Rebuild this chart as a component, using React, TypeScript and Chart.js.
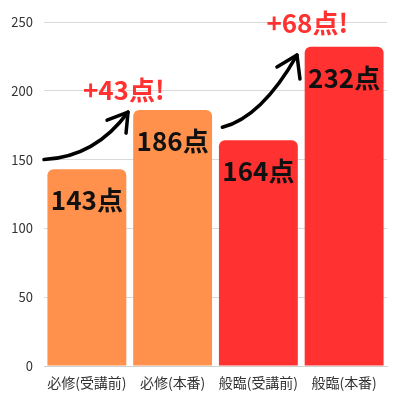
import React, { useEffect, useRef } from "react";
import { Chart, registerables } from "chart.js";

Chart.register(...registerables);

const categories = ["必修(受講前)", "必修(本番)", "般臨(受講前)", "般臨(本番)"];
const scores = [143, 186, 164, 232];
const barColors = ["#FF914D", "#FF914D", "#FF3131", "#FF3131"];
const yTicks = [0, 50, 100, 150, 200, 250];

const FONT = "'Noto Sans CJK JP', 'Noto Sans', sans-serif";

const gains = [
  { from: 0, to: 1, start: [-0.5, 150], ctrl: [0.1, 152], tip: [0.48, 184.5], text: [0.43, 200.5] },
  { from: 2, to: 3, start: [1.58, 173.5], ctrl: [2.04, 181], tip: [2.45, 226], text: [2.57, 249.5] },
];

const overlay = {
  id: "overlay",
  afterDatasetsDraw(chart: any) {
    const ctx = chart.ctx;
    const xs = chart.scales.x;
    const ys = chart.scales.y;
    const meta = chart.getDatasetMeta(0);
    ctx.save();
    ctx.font = `bold 26px ${FONT}`;
    ctx.fillStyle = "#111";
    ctx.textAlign = "center";
    ctx.textBaseline = "middle";
    meta.data.forEach((bar: any, i: number) => {
      ctx.fillText(`${scores[i]}点`, bar.x, bar.y + 31);
    });
    const px = (p: number[]) => [xs.getPixelForValue(p[0]), ys.getPixelForValue(p[1])];
    gains.forEach((g, gi) => {
      const s = px(g.start);
      const c = px(g.ctrl);
      const t = px(g.tip);
      ctx.strokeStyle = "#000";
      ctx.lineWidth = 3.5;
      ctx.lineCap = "round";
      ctx.lineJoin = "round";
      ctx.beginPath();
      ctx.moveTo(s[0], s[1]);
      ctx.quadraticCurveTo(c[0], c[1], t[0], t[1]);
      ctx.stroke();
      const arms = gi === 0 ? [[-21, 8], [-2, 21]] : [[-20, 12], [3, 24]];
      ctx.beginPath();
      ctx.moveTo(t[0] + arms[0][0], t[1] + arms[0][1]);
      ctx.lineTo(t[0], t[1]);
      ctx.lineTo(t[0] + arms[1][0], t[1] + arms[1][1]);
      ctx.stroke();
      const tp = px(g.text);
      ctx.font = `bold 26px ${FONT}`;
      ctx.fillStyle = "#FF3131";
      ctx.fillText(`+${scores[g.to] - scores[g.from]}点!`, tp[0], tp[1]);
    });
    ctx.restore();
  },
};

export default function App() {
  const ref = useRef<HTMLCanvasElement>(null);
  useEffect(() => {
    const chart = new Chart(ref.current!, {
      type: "bar",
      data: {
        labels: categories,
        datasets: [
          {
            data: scores,
            backgroundColor: barColors,
            borderRadius: 6,
            borderSkipped: "bottom",
            categoryPercentage: 1,
            barPercentage: 0.92,
          },
        ],
      },
      options: {
        animation: false,
        responsive: true,
        maintainAspectRatio: false,
        layout: { padding: { left: 0, right: 13, top: 22, bottom: 0 } },
        plugins: { legend: { display: false }, tooltip: { enabled: false } },
        scales: {
          x: {
            grid: { display: false, drawTicks: false },
            border: { display: true, color: "#d0d0d0" },
            ticks: {
              font: { family: FONT, size: 14 },
              color: "#333",
              padding: 8,
              maxRotation: 0,
              minRotation: 0,
              autoSkip: false,
            },
            afterFit: (axis: any) => {
              axis.height = 34;
            },
          },
          y: {
            min: 0,
            max: 250,
            afterBuildTicks: (axis: any) => {
              axis.ticks = yTicks.map((v) => ({ value: v }));
            },
            grid: { color: "#d9d9d9", drawTicks: false },
            border: { display: false },
            ticks: { font: { family: FONT, size: 13 }, color: "#333", padding: 11 },
            afterFit: (axis: any) => {
              axis.width = 44;
            },
          },
        },
      },
      plugins: [overlay],
    });
    return () => chart.destroy();
  }, []);
  return (
    <div style={{ position: "absolute", left: 0, top: 0, width: 400, height: 400 }}>
      <canvas ref={ref} />
    </div>
  );
}
